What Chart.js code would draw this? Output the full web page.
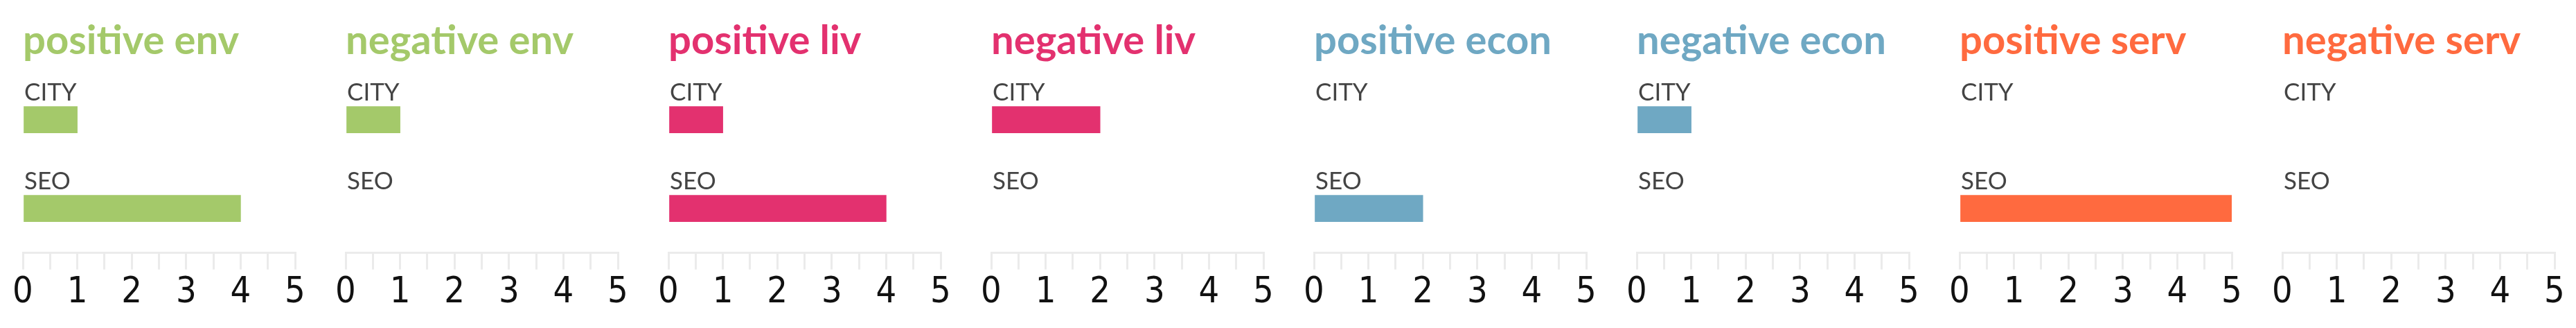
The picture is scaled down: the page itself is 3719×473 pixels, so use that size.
<!DOCTYPE html>
<html>
<head>
<meta charset="utf-8">
<script src="https://cdn.jsdelivr.net/npm/chart.js@4"></script>
<style>
  html, body { margin: 0; padding: 0; background: #fff; }
  body { width: 3719px; height: 473px; position: relative; overflow: hidden; }
  .panel { position: absolute; top: 0; width: 466px; height: 473px; }
  .panel canvas { display: block; }
</style>
</head>
<body>
<div id="wrap"></div>
<script>
/* Data */
const categories = ['CITY', 'SEO'];
const panelTitles = ['positive env', 'negative env', 'positive liv', 'negative liv',
                     'positive econ', 'negative econ', 'positive serv', 'negative serv'];
const cityValues = [1, 1, 1, 2, 0, 1, 0, 0];
const seoValues  = [4, 0, 4, 0, 2, 0, 5, 0];
const panelColors = ['#a4c96a', '#a4c96a', '#e3316f', '#e3316f',
                     '#6fa8c3', '#6fa8c3', '#ff6a3f', '#ff6a3f'];
const xTicks = [0, 1, 2, 3, 4, 5];

// where each axis starts in the page, and how wide it is
const firstAxisLeft = 33;
const panelStep = 466;
const axisWidth = 393;
const panelW = 466, panelH = 473;

const wrap = document.getElementById('wrap');

panelTitles.forEach((title, i) => {
  const div = document.createElement('div');
  div.className = 'panel';
  div.style.left = (firstAxisLeft + panelStep * i - 20) + 'px';
  const canvas = document.createElement('canvas');
  canvas.width = panelW;
  canvas.height = panelH;
  canvas.style.width = panelW + 'px';
  canvas.style.height = panelH + 'px';
  div.appendChild(canvas);
  wrap.appendChild(div);

  const chart = new Chart(canvas.getContext('2d'), {
    type: 'bar',
    data: {
      labels: categories,
      datasets: [{
        data: [cityValues[i], seoValues[i]],
        // empty bars should leave no sliver at zero
        backgroundColor: ctx => ctx.raw ? panelColors[i] : 'rgba(0,0,0,0)',
        borderWidth: 0,
        barThickness: 38
      }]
    },
    options: {
      indexAxis: 'y',
      responsive: false,
      maintainAspectRatio: false,
      animation: false,
      devicePixelRatio: 1,
      layout: {
        padding: { left: 20, right: panelW - 20 - axisWidth, top: 24, bottom: 16 }
      },
      plugins: {
        legend: { display: false },
        tooltip: { enabled: false },
        title: {
          display: true,
          text: title,
          align: 'start',
          color: panelColors[i],
          font: { family: 'Lato', weight: 'bold', size: 58 },
          padding: { top: 0, bottom: 15 }
        }
      },
      scales: {
        x: {
          type: 'linear',
          min: 0,
          max: 5,
          border: { display: true, color: '#ebebeb', width: 3 },
          grid: {
            drawOnChartArea: false,
            drawTicks: true,
            tickLength: 24,
            color: '#ebebeb',
            lineWidth: 3
          },
          ticks: {
            stepSize: 0.5,
            autoSkip: false,
            maxRotation: 0,
            padding: 3,
            color: '#111',
            font: { family: "'Liberation Sans Narrow', 'DejaVu Sans Condensed', sans-serif", size: 52 },
            callback: function (value) {
              return xTicks.includes(value) ? String(value) : '';
            }
          }
        },
        y: {
          type: 'category',
          offset: true,
          border: { display: false },
          grid: { display: false },
          ticks: {
            mirror: true,
            padding: 2,
            labelOffset: -39,
            color: '#444',
            font: { family: 'Lato', size: 35 }
          },
          afterFit: function (scale) { scale.width = 0; }
        }
      }
    }
  });
  // line the chart area up with the axis start
  div.style.left = (firstAxisLeft + panelStep * i - chart.chartArea.left) + 'px';
});
</script>
</body>
</html>
